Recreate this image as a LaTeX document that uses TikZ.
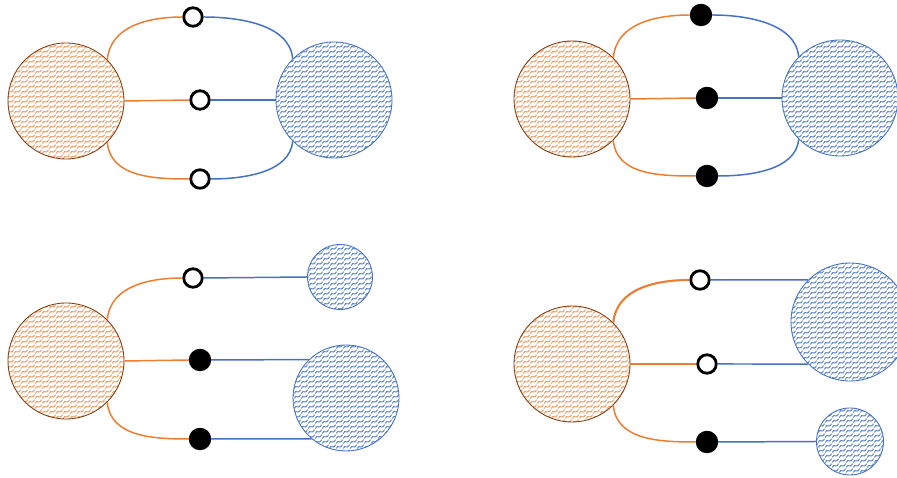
\documentclass[tikz,border=0pt]{standalone}
\usetikzlibrary{patterns}
\definecolor{edgeorange}{RGB}{237,125,49}
\definecolor{rimorange}{RGB}{132,60,12}
\definecolor{edgeblue}{RGB}{68,114,196}
% small wave marks used as the fill of the balls
\pgfdeclarepatternformonly{smallwave}{\pgfpointorigin}{\pgfpoint{4.2pt}{2.8pt}}{\pgfpoint{4.2pt}{2.8pt}}{%
  \pgfsetlinewidth{0.55pt}
  \pgfpathmoveto{\pgfpoint{0.2pt}{0.3pt}}
  \pgfpathcurveto{\pgfpoint{1.4pt}{3.2pt}}{\pgfpoint{2.2pt}{-0.8pt}}{\pgfpoint{4.0pt}{2.5pt}}
  \pgfusepath{stroke}}
\begin{document}
\begin{tikzpicture}[line width=0.85pt,
  oball/.style={circle,draw=rimorange,line width=0.5pt,inner sep=0pt,
    pattern=smallwave,pattern color=edgeorange!80},
  bball/.style={circle,draw=edgeblue,line width=0.5pt,inner sep=0pt,
    pattern=smallwave,pattern color=edgeblue!90},
  opendot/.style={circle,draw=black,fill=white,line width=1.6pt,inner sep=0pt,minimum size=0.37cm},
  fulldot/.style={circle,draw=black,fill=black,line width=0.5pt,inner sep=0pt,minimum size=0.43cm},
  oline/.style={draw=edgeorange},
  bline/.style={draw=edgeblue}]
  \useasboundingbox (0,0) rectangle (17.94,9.56);

  % oben links: zwei Kugeln, drei offene Punkte
  \node[oball,minimum size=2.32cm] (o1) at (1.32,7.54) {};
  \node[bball,minimum size=2.32cm] (b1) at (6.68,7.56) {};
  \node[opendot] (n1) at (3.86,9.22) {};
  \node[opendot] (n2) at (4.00,7.56) {};
  \node[opendot] (n3) at (4.00,5.98) {};
  \draw[oline] (o1.45) to[out=85,in=180] (n1.west);
  \draw[bline] (n1.east) to[out=0,in=95,looseness=0.9] (b1.135);
  \draw[oline] (o1.east) -- (n2.west);
  \draw[bline] (n2.east) -- (b1.west);
  \draw[oline] (o1.-45) to[out=-85,in=180] (n3.west);
  \draw[bline] (n3.east) to[out=0,in=-95,looseness=0.9] (b1.-135);

  % oben rechts: drei volle Punkte
  \node[oball,minimum size=2.32cm] (o2) at (11.44,7.58) {};
  \node[bball,minimum size=2.32cm] (b2) at (16.80,7.60) {};
  \node[fulldot] (m1) at (14.02,9.26) {};
  \node[fulldot] (m2) at (14.14,7.60) {};
  \node[fulldot] (m3) at (14.14,6.04) {};
  \draw[oline] (o2.45) to[out=85,in=180] (m1.west);
  \draw[bline] (m1.east) to[out=0,in=95,looseness=0.9] (b2.135);
  \draw[oline] (o2.east) -- (m2.west);
  \draw[bline] (m2.east) -- (b2.west);
  \draw[oline] (o2.-45) to[out=-85,in=180] (m3.west);
  \draw[bline] (m3.east) to[out=0,in=-95,looseness=0.9] (b2.-135);

  % unten links: blaue Kugel zerfaellt in zwei
  \node[oball,minimum size=2.32cm] (o3) at (1.32,2.34) {};
  \node[bball,minimum size=1.30cm] (b3a) at (6.80,4.02) {};
  \node[bball,minimum size=2.12cm] (b3b) at (6.92,1.60) {};
  \node[opendot] (p1) at (3.86,4.00) {};
  \node[fulldot] (p2) at (4.00,2.36) {};
  \node[fulldot] (p3) at (4.00,0.78) {};
  \draw[oline] (o3.45) to[out=85,in=180] (p1.west);
  \draw[bline] (p1.east) -- (b3a.west);
  \draw[oline] (o3.east) -- (p2.west);
  \draw[bline] (p2.east) -- (b3b.134);
  \draw[oline] (o3.-45) to[out=-85,in=180] (p3.west);
  \draw[bline] (p3.east) -- (b3b.230);

  % unten rechts: andere Aufteilung
  \node[oball,minimum size=2.32cm] (o4) at (11.44,2.28) {};
  \node[bball,minimum size=2.36cm] (b4a) at (17.00,3.12) {};
  \node[bball,minimum size=1.34cm] (b4b) at (17.00,0.73) {};
  \node[opendot] (q1) at (14.00,3.96) {};
  \node[opendot] (q2) at (14.14,2.28) {};
  \node[fulldot] (q3) at (14.14,0.72) {};
  \draw[oline,line width=1.2pt] (o4.45) to[out=85,in=180] (q1.west);
  \draw[bline] (q1.east) -- (b4a.135);
  \draw[oline,line width=1.2pt] (o4.east) -- (q2.west);
  \draw[bline] (q2.east) -- (b4a.225);
  \draw[oline] (o4.-45) to[out=-85,in=180] (q3.west);
  \draw[bline] (q3.east) -- (b4b.west);
\end{tikzpicture}
\end{document}
